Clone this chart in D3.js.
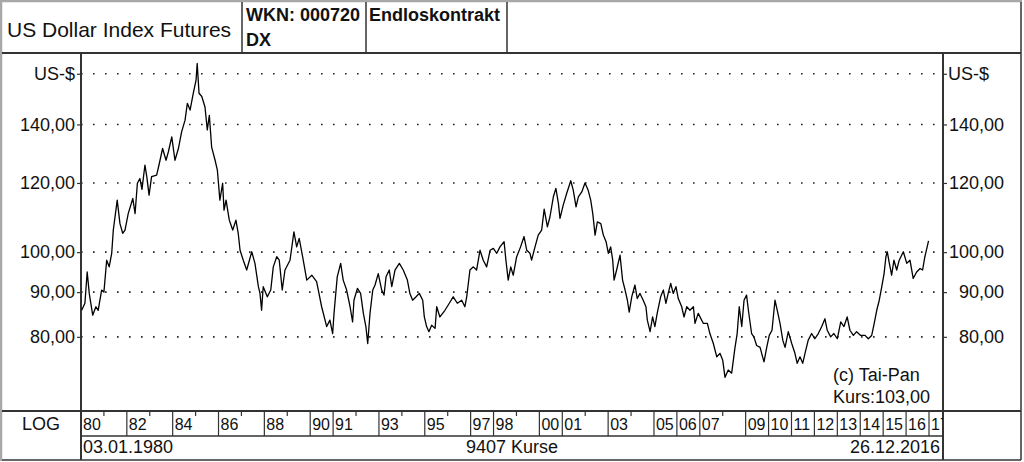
<!DOCTYPE html>
<html><head><meta charset="utf-8">
<script src="https://cdn.jsdelivr.net/npm/d3@7"></script>
<style>
body{margin:0;background:#fff}
svg{display:block}
text{font-family:"Liberation Sans",Arial,Helvetica,sans-serif;fill:#111}
</style>
</head><body>
<svg id="c" width="1024" height="462"></svg>
<script>
// ---- data (decimal year, index value in US-$) ----
const dates = [1980.03,1980.17,1980.27,1980.36,1980.51,1980.65,1980.75,1980.90,1981.00,1981.12,1981.23,1981.34,1981.41,1981.58,1981.70,1981.82,1981.92,1982.06,1982.26,1982.36,1982.46,1982.57,1982.66,1982.79,1982.87,1982.97,1983.08,1983.30,1983.42,1983.56,1983.71,1983.81,1983.96,1984.10,1984.25,1984.39,1984.54,1984.64,1984.76,1984.90,1985.02,1985.07,1985.15,1985.27,1985.41,1985.51,1985.60,1985.70,1985.85,1985.95,1986.06,1986.18,1986.24,1986.33,1986.47,1986.62,1986.76,1986.86,1986.94,1987.08,1987.23,1987.45,1987.59,1987.74,1987.81,1987.88,1987.95,1988.13,1988.28,1988.39,1988.54,1988.65,1988.78,1988.90,1989.12,1989.29,1989.41,1989.52,1989.67,1989.85,1990.07,1990.28,1990.50,1990.72,1990.86,1990.98,1991.04,1991.18,1991.33,1991.44,1991.59,1991.74,1991.85,1991.91,1992.06,1992.20,1992.32,1992.43,1992.51,1992.61,1992.73,1992.83,1992.97,1993.12,1993.22,1993.31,1993.45,1993.56,1993.70,1993.89,1994.06,1994.24,1994.35,1994.47,1994.62,1994.76,1994.91,1994.98,1995.08,1995.18,1995.30,1995.45,1995.52,1995.66,1995.88,1996.07,1996.24,1996.42,1996.61,1996.75,1996.83,1996.97,1997.12,1997.26,1997.41,1997.55,1997.70,1997.85,1997.99,1998.14,1998.28,1998.46,1998.54,1998.64,1998.75,1998.86,1999.01,1999.18,1999.33,1999.45,1999.59,1999.66,1999.81,1999.95,2000.10,2000.21,2000.35,2000.46,2000.61,2000.72,2000.83,2000.90,2001.04,2001.19,2001.37,2001.48,2001.60,2001.70,2001.85,2001.99,2002.13,2002.24,2002.33,2002.43,2002.53,2002.68,2002.79,2002.91,2003.01,2003.11,2003.20,2003.26,2003.37,2003.52,2003.63,2003.74,2003.84,2003.92,2004.03,2004.17,2004.27,2004.39,2004.53,2004.65,2004.71,2004.83,2004.94,2005.04,2005.14,2005.29,2005.41,2005.52,2005.62,2005.73,2005.84,2005.96,2006.06,2006.21,2006.31,2006.43,2006.57,2006.72,2006.79,2006.93,2007.15,2007.33,2007.44,2007.59,2007.74,2007.88,2008.00,2008.10,2008.24,2008.39,2008.53,2008.63,2008.72,2008.83,2008.93,2009.04,2009.12,2009.16,2009.26,2009.36,2009.48,2009.63,2009.74,2009.80,2009.92,2010.03,2010.15,2010.28,2010.38,2010.50,2010.62,2010.72,2010.86,2011.01,2011.15,2011.25,2011.37,2011.49,2011.59,2011.73,2011.88,2012.02,2012.17,2012.32,2012.46,2012.56,2012.71,2012.85,2013.00,2013.15,2013.29,2013.43,2013.55,2013.70,2013.84,2014.02,2014.21,2014.35,2014.50,2014.61,2014.72,2014.83,2014.94,2015.04,2015.12,2015.18,2015.27,2015.37,2015.47,2015.59,2015.70,2015.88,2016.03,2016.17,2016.31,2016.46,2016.61,2016.72,2016.82,2016.92,2016.98];
const values = [85.8,87.4,94.9,89.7,84.7,86.6,85.8,90.5,90.0,97.9,96.2,99.7,106.0,114.7,107.8,105.1,106.0,110.7,115.2,110.7,119.9,121.4,118.0,125.8,122.0,116.2,122.0,122.5,126.4,131.4,127.4,130.2,135.5,127.4,131.4,137.3,141.6,148.0,145.4,152.0,157.3,164.4,152.0,150.7,146.6,138.0,143.4,131.9,127.4,124.1,114.7,119.9,111.7,114.7,108.8,106.0,108.8,105.1,100.5,97.9,95.4,100.1,97.1,91.3,89.7,85.8,91.3,88.9,90.5,96.2,98.8,97.9,90.5,95.4,97.9,105.5,101.4,103.7,98.8,92.9,94.1,92.5,86.6,82.2,83.6,80.7,85.1,93.7,97.1,92.9,90.5,86.6,83.2,88.1,90.9,89.7,85.1,82.2,78.6,85.1,90.5,91.7,94.5,90.5,89.3,93.7,95.4,91.3,95.4,97.1,95.4,92.9,89.7,88.1,88.9,89.7,88.1,84.3,82.2,81.1,82.5,81.8,86.6,84.3,85.8,87.4,88.9,87.4,88.1,86.6,88.9,95.4,96.2,95.4,100.5,97.9,96.2,100.5,101.0,99.7,101.4,102.8,97.9,92.9,96.2,94.1,98.8,101.4,104.2,100.5,99.7,97.9,101.4,104.6,106.0,112.0,106.9,109.7,115.7,118.3,113.7,109.3,113.2,116.7,120.7,117.7,112.7,115.7,117.2,120.0,117.7,114.7,110.7,104.6,108.3,107.8,104.6,102.8,99.7,101.4,97.9,92.9,95.4,99.2,92.9,90.5,88.1,85.4,88.9,91.7,88.5,89.7,88.1,86.6,83.6,81.1,84.3,82.2,85.1,88.9,90.5,87.4,89.7,92.1,89.7,91.3,88.5,86.6,84.3,86.6,85.8,86.6,82.9,85.1,82.9,82.9,80.7,78.6,75.9,76.6,75.2,71.9,73.3,72.7,77.6,80.7,86.6,82.2,88.1,89.3,85.8,84.3,80.7,80.0,78.2,77.8,75.9,74.9,77.8,80.3,81.4,88.1,85.8,82.9,79.3,77.8,81.1,78.6,76.6,74.6,75.9,74.6,76.6,79.3,80.7,79.6,80.7,82.2,83.9,81.4,80.0,80.7,79.6,83.2,82.2,84.3,81.4,80.3,81.1,80.3,80.3,79.6,80.3,82.9,85.8,88.1,91.3,94.5,98.8,100.1,97.1,94.1,97.9,95.4,97.9,100.1,97.1,97.9,93.3,94.9,95.8,95.4,98.8,101.4,103.0];

const yTicks = [160,140,120,100,90,80];
const yTickLabels = ["US-$","140,00","120,00","100,00","90,00","80,00"];
const labeledYears = [1980,1982,1984,1986,1988,1990,1991,1993,1995,1997,1998,2000,2001,2003,2005,2006,2007,2009,2010,2011,2012,2013,2014,2015,2016,2017];
const minorYears = [1981,1983,1985,1987,1989,1992,1994,1996,1999,2002,2004,2008];
const titleText = "US Dollar Index Futures";
const wknText = "WKN: 000720";
const symbolText = "DX";
const contractText = "Endloskontrakt";
const firstDate = "03.01.1980";
const lastDate = "26.12.2016";
const countText = "9407 Kurse";
const creditText = "(c) Tai-Pan";
const lastQuote = "Kurs:103,00";
const scaleMode = "LOG";

// ---- layout ----
const W = 1024, H = 462;
const L = 81, R = 943, T = 53, B = 411, B2 = 436, B3 = 460, OR = 1021;
const svg = d3.select("#c");
const dark = "#333";

const x = d3.scaleLinear().domain([1980, 2017]).range([L, 929]);
const y = d3.scaleLog().domain([65.8, 169]).range([B, T]);

// outer frame
svg.append("rect").attr("x",0).attr("y",0).attr("width",W).attr("height",H).attr("fill","#fff");
svg.append("line").attr("x1",0).attr("x2",OR+1).attr("y1",1).attr("y2",1).attr("stroke","#a8a8a8").attr("stroke-width",2.5);
svg.append("line").attr("x1",1).attr("x2",1).attr("y1",0).attr("y2",B3+1).attr("stroke","#a8a8a8").attr("stroke-width",2.5);
svg.append("line").attr("x1",OR).attr("x2",OR).attr("y1",2).attr("y2",B3).attr("stroke",dark).attr("stroke-width",1.5);
svg.append("line").attr("x1",2).attr("x2",OR).attr("y1",B3).attr("y2",B3).attr("stroke",dark).attr("stroke-width",1.5);

// header
svg.append("line").attr("x1",2).attr("x2",OR).attr("y1",T).attr("y2",T).attr("stroke",dark).attr("stroke-width",2);
[242,366,507].forEach(cx => svg.append("line").attr("x1",cx).attr("x2",cx).attr("y1",2).attr("y2",T).attr("stroke",dark).attr("stroke-width",1.5));
svg.append("text").attr("x",7).attr("y",37).attr("font-size",21).text(titleText);
svg.append("text").attr("x",246).attr("y",21).attr("font-size",18).attr("font-weight","bold").text(wknText);
svg.append("text").attr("x",246).attr("y",46).attr("font-size",18).attr("font-weight","bold").text(symbolText);
svg.append("text").attr("x",369).attr("y",21).attr("font-size",18).attr("font-weight","bold").text(contractText);

// grid (dotted)
svg.append("g").selectAll("line").data(yTicks).join("line")
  .attr("x1",L).attr("x2",R).attr("y1",d=>y(d)).attr("y2",d=>y(d))
  .attr("stroke","#222").attr("stroke-width",1.6).attr("stroke-dasharray","1.6,10.4");

// axes frame lines
svg.append("line").attr("x1",L).attr("x2",L).attr("y1",T).attr("y2",B3).attr("stroke",dark).attr("stroke-width",2);
svg.append("line").attr("x1",R).attr("x2",R).attr("y1",T).attr("y2",B3).attr("stroke",dark).attr("stroke-width",2);
svg.append("line").attr("x1",2).attr("x2",OR).attr("y1",B).attr("y2",B).attr("stroke",dark).attr("stroke-width",2);
svg.append("line").attr("x1",L).attr("x2",R).attr("y1",B2).attr("y2",B2).attr("stroke",dark).attr("stroke-width",1.5);

// y axes (left & right) using d3 axes
const leftAxis = d3.axisLeft(y).tickValues(yTicks).tickSize(4).tickPadding(2)
  .tickFormat((d,i)=>yTickLabels[i]);
const gl = svg.append("g").attr("transform",`translate(${L},0)`).call(leftAxis);
gl.select(".domain").remove();
gl.selectAll(".tick line").attr("stroke",dark).attr("stroke-width",1.2);
gl.selectAll(".tick text").attr("font-size",18).attr("font-family","Liberation Sans, Arial, sans-serif").attr("fill","#111");

const rightAxis = d3.axisRight(y).tickValues(yTicks).tickSize(4).tickPadding(2)
  .tickFormat((d,i)=>yTickLabels[i]);
const gr = svg.append("g").attr("transform",`translate(${R},0)`).call(rightAxis);
gr.select(".domain").remove();
gr.selectAll(".tick line").attr("stroke",dark).attr("stroke-width",1.2);
gr.selectAll(".tick text").attr("font-size",18).attr("font-family","Liberation Sans, Arial, sans-serif").attr("fill","#111")
  .attr("text-anchor",(d,i)=> i===0 ? "start" : "end")
  .attr("x",(d,i)=> i===0 ? 5 : 61);

// clip
svg.append("clipPath").attr("id","plot").append("rect").attr("x",L).attr("y",T).attr("width",R-L).attr("height",B-T);
svg.append("clipPath").attr("id","yrow").append("rect").attr("x",L).attr("y",B).attr("width",R-L).attr("height",B2-B);

// price line
const series = d3.zip(dates, values);
svg.append("path").datum(series).attr("clip-path","url(#plot)")
  .attr("fill","none").attr("stroke","#000").attr("stroke-width",1.3).attr("stroke-linejoin","round")
  .attr("d", d3.line().x(d=>x(d[0])).y(d=>y(d[1])));

// year row
const yr = svg.append("g").attr("clip-path","url(#yrow)");
yr.selectAll("line.maj").data(labeledYears).join("line").attr("class","maj")
  .attr("x1",d=>x(d)).attr("x2",d=>x(d)).attr("y1",B).attr("y2",B2)
  .attr("stroke",dark).attr("stroke-width",1.2);
yr.selectAll("line.min").data(minorYears).join("line").attr("class","min")
  .attr("x1",d=>x(d)).attr("x2",d=>x(d)).attr("y1",B).attr("y2",B+5)
  .attr("stroke",dark).attr("stroke-width",1.2);
yr.selectAll("text").data(labeledYears).join("text")
  .attr("x",d=>x(d)+2).attr("y",429.5).attr("font-size",16)
  .text(d=>String(d).slice(2));

svg.append("text").attr("x",41).attr("y",429.5).attr("font-size",18).attr("text-anchor","middle").text(scaleMode);

// date row
svg.append("text").attr("x",83).attr("y",453).attr("font-size",18).text(firstDate);
svg.append("text").attr("x",(L+R)/2).attr("y",453).attr("font-size",18).attr("text-anchor","middle").text(countText);
svg.append("text").attr("x",940).attr("y",453).attr("font-size",18).attr("text-anchor","end").text(lastDate);

// credits
svg.append("text").attr("x",833).attr("y",381).attr("font-size",18).text(creditText);
svg.append("text").attr("x",833).attr("y",403).attr("font-size",18).text(lastQuote);
</script>
</body></html>
